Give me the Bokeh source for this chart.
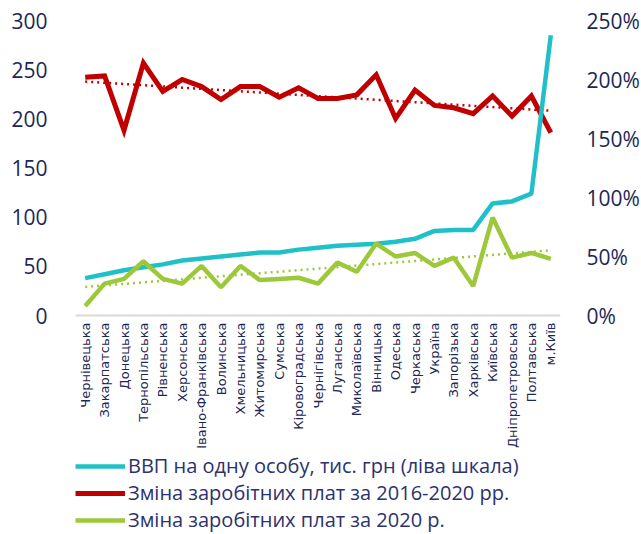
import math
import numpy as np
from bokeh.plotting import figure
from bokeh.core.properties import value
from bokeh.models import (LinearAxis, Range1d, FixedTicker, PrintfTickFormatter,
                          Legend, LegendItem, ColumnDataSource, Span)
from bokeh.embed import file_html
from bokeh.resources import INLINE

regions = ["Чернівецька", "Закарпатська", "Донецька", "Тернопільська", "Рівненська",
           "Херсонська", "Івано-Франківська", "Волинська", "Хмельницька", "Житомирська",
           "Сумська", "Кіровоградська", "Чернігівська", "Луганська", "Миколаївська",
           "Вінницька", "Одеська", "Черкаська", "Україна", "Запорізька",
           "Харківська", "Київська", "Дніпропетровська", "Полтавська", "м.Київ"]

# GDP per capita, thousand UAH (left scale)
gdp = [38, 42, 46, 49, 52, 56, 58, 60, 62, 64, 64, 67, 69, 71, 72, 73, 75, 78, 86, 87,
       87, 114, 116, 124, 285]

# Wage change 2016-2020, % (right scale)
wage_2016_2020 = [202, 203, 157, 214, 190, 200, 194, 183, 194, 194, 185, 193, 184, 184,
                  187, 204, 167, 191, 178, 176, 171, 186, 169, 186, 155]

# Wage change 2020, % (right scale)
wage_2020 = [8, 27, 31, 46, 31, 27, 42, 24, 42, 30, 31, 32, 27, 45, 37, 61, 50, 53, 42,
             49, 25, 83, 49, 53, 48]

left_ticks = [0, 50, 100, 150, 200, 250, 300]
right_ticks = [0, 50, 100, 150, 200, 250]

legend_labels = ["ВВП на одну особу, тис. грн (ліва шкала)",
                 "Зміна заробітних плат за 2016-2020 рр.",
                 "Зміна заробітних плат за 2020 р."]

CYAN = "#1fc0c8"
RED = "#c00000"
GREEN = "#9cc83a"
NAVY = "#1c2756"
FONT = "Open Sans"

# layout: chart area 295 px tall above the baseline, 219 px below it for labels + legend
ABOVE_PX, BELOW_PX = 295, 219
LEFT_MAX, RIGHT_MAX = 300, 250

idx = np.arange(len(regions))
red_trend = np.polyval(np.polyfit(idx, wage_2016_2020, 1), idx)
green_trend = np.polyval(np.polyfit(idx, wage_2020, 1), idx)

src = ColumnDataSource(dict(region=regions, gdp=gdp, w1=wage_2016_2020, w2=wage_2020,
                            t1=red_trend, t2=green_trend,
                            base=[0] * len(regions)))

p = figure(x_range=regions,
           y_range=Range1d(-LEFT_MAX * BELOW_PX / ABOVE_PX, LEFT_MAX),
           frame_width=485, frame_height=ABOVE_PX + BELOW_PX,
           output_backend="svg", toolbar_location=None,
           min_border_left=75, min_border_right=81, min_border_top=20,
           min_border_bottom=0)
p.extra_y_ranges = {"pct": Range1d(-RIGHT_MAX * BELOW_PX / ABOVE_PX, RIGHT_MAX)}
p.outline_line_color = None
p.xgrid.grid_line_color = None
p.ygrid.grid_line_color = None
p.x_range.range_padding = 0
p.xaxis.visible = False

# left axis
ya = p.yaxis[0]
ya.ticker = FixedTicker(ticks=left_ticks)
ya.axis_line_color = None
ya.major_tick_line_color = None
ya.minor_tick_line_color = None
ya.major_label_text_font = FONT
ya.major_label_text_font_size = "21px"
ya.major_label_text_color = NAVY
ya.major_label_standoff = 22

# right axis
ra = LinearAxis(y_range_name="pct", ticker=FixedTicker(ticks=right_ticks),
                formatter=PrintfTickFormatter(format="%d%%"))
ra.axis_line_color = None
ra.major_tick_line_color = None
ra.minor_tick_line_color = None
ra.major_label_text_font = FONT
ra.major_label_text_font_size = "21px"
ra.major_label_text_color = NAVY
ra.major_label_standoff = 20
p.add_layout(ra, "right")

# baseline
p.add_layout(Span(location=0, dimension="width", line_color="#d9d9d9", line_width=2))

# category labels (vertical, reading bottom to top)
p.text("region", "base", text="region", source=src, angle=math.pi / 2,
       text_align="right", text_baseline="middle", y_offset=7,
       text_font=value("DejaVu Sans"), text_font_size="13px", text_color=NAVY)

# trend lines
p.line("region", "t1", source=src, y_range_name="pct", line_color=RED,
       line_width=2.5, line_dash="2 4")
p.line("region", "t2", source=src, y_range_name="pct", line_color=GREEN,
       line_width=2.5, line_dash="2 4")

r_red = p.line("region", "w1", source=src, y_range_name="pct", line_color=RED,
               line_width=5, line_join="miter")
r_cyan = p.line("region", "gdp", source=src, line_color=CYAN, line_width=4.5)
r_green = p.line("region", "w2", source=src, y_range_name="pct", line_color=GREEN,
                 line_width=4.5)

legend = Legend(items=[LegendItem(label=legend_labels[0], renderers=[r_cyan]),
                       LegendItem(label=legend_labels[1], renderers=[r_red]),
                       LegendItem(label=legend_labels[2], renderers=[r_green])],
                location=(0, 1), orientation="vertical")
legend.border_line_color = None
legend.background_fill_alpha = 0
legend.label_text_font = FONT
legend.label_text_font_size = "20px"
legend.label_text_color = "#2b3270"
legend.glyph_width = 50
legend.glyph_height = 20
legend.label_height = 20
legend.label_standoff = 3
legend.spacing = 0
legend.padding = 0
legend.margin = 0
p.add_layout(legend, "center")

open("out.html", "w").write(file_html(p, INLINE))
